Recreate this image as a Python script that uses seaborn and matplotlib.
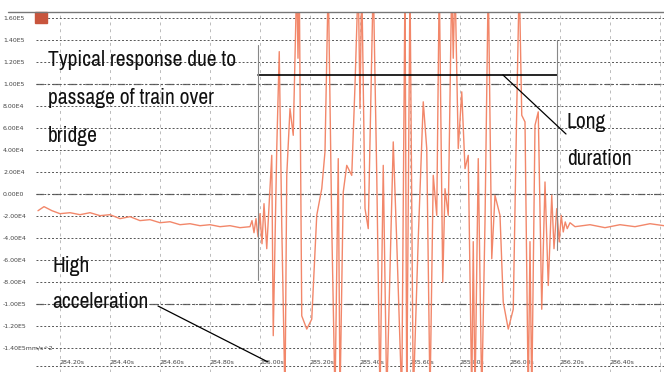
import numpy as np
import pandas as pd
import seaborn as sns
import matplotlib.pyplot as plt
from matplotlib import font_manager as fm
from matplotlib.lines import Line2D
from matplotlib.patches import Rectangle

# acceleration trace: time [s], acceleration [1E4 mm/s^2]
time_s = [
    284.112, 284.136, 284.168, 284.200, 284.240, 284.280, 284.320, 284.360,
    284.400, 284.440, 284.480, 284.520, 284.560, 284.600, 284.640, 284.680,
    284.720, 284.760, 284.800, 284.840, 284.880, 284.920, 284.960,
    284.968, 284.976, 284.984, 284.992, 285.000, 285.008, 285.016, 285.027,
    285.047, 285.053, 285.067, 285.077, 285.087, 285.100, 285.107, 285.120,
    285.133, 285.147, 285.152, 285.157, 285.167, 285.187, 285.207, 285.227,
    285.247, 285.260, 285.273, 285.287, 285.300, 285.313, 285.320, 285.333,
    285.347, 285.367, 285.380, 285.393, 285.400, 285.407, 285.420, 285.433,
    285.453, 285.467, 285.480, 285.493, 285.507, 285.533, 285.547, 285.567,
    285.580, 285.587, 285.600, 285.613, 285.633, 285.653, 285.667, 285.680,
    285.693, 285.707, 285.717, 285.731, 285.740, 285.753, 285.767, 285.773,
    285.780, 285.793, 285.807, 285.820, 285.833, 285.847, 285.853, 285.860,
    285.873, 285.887, 285.900, 285.913, 285.927, 285.940, 285.960, 285.973,
    285.993, 286.013, 286.027, 286.037, 286.047, 286.060, 286.073, 286.080,
    286.087, 286.100, 286.113, 286.127, 286.140, 286.153, 286.167, 286.176,
    286.187, 286.197, 286.205, 286.213, 286.221, 286.229, 286.240, 286.260,
    286.320, 286.380, 286.440, 286.500, 286.560, 286.616,
]
accel_e4 = [
    -1.55, -1.18, -1.55, -1.82, -1.73, -1.91, -1.73, -2.00,
    -1.91, -2.27, -2.09, -2.45, -2.36, -2.64, -2.55, -2.82,
    -2.73, -2.91, -2.82, -3.00, -2.91, -3.09, -3.00,
    -2.45, -3.55, -2.27, -3.91, -1.82, -4.55, -0.91, -5.00,
    3.48, -12.9, 4.09, 12.9, -2.88, -18.6, 1.66, 7.73,
    5.30, 19.5, 12.3, 19.5, -11.1, -12.3, -11.4, -1.97,
    0.45, 3.82, 19.5, -2.88, -18.6, 3.18, -18.6, 0.15,
    2.57, 1.66, 9.85, 19.5, 7.73, 19.5, -1.36, -3.18,
    19.5, 1.66, -18.6, 2.57, -18.6, 4.70, -4.39, -18.6,
    19.5, -18.6, 19.5, -18.6, -4.09, 8.34, 4.09, -18.6,
    1.66, -1.97, 19.5, -8.03, 0.45, -1.97, 19.5, 12.3,
    19.5, 4.09, 9.25, 2.27, 3.48, -18.6, -4.36, -18.6,
    3.18, -18.6, -2.57, 19.5, -5.91, -0.15, -1.97, -9.85,
    -12.3, -10.5, 7.73, 19.5, 7.12, 6.52, -18.6, -4.36,
    -18.6, 6.21, 7.43, -10.5, 1.06, -8.34, -0.15, -5.00,
    -1.36, -4.39, -1.97, -3.48, -2.57, -3.18, -2.64, -3.00,
    -2.82, -3.09, -2.82, -3.00, -2.73, -2.91,
]

x_ticks = [284.2, 284.4, 284.6, 284.8, 285.0, 285.2, 285.4, 285.6,
           285.8, 286.0, 286.2, 286.4, 286.6]
x_labels = ["284.20s", "284.40s", "284.60s", "284.80s", "285.00s", "285.20s",
            "285.40s", "285.60s", "285.80s", "286.00s", "286.20s", "286.40s",
            ""]
y_ticks = [16e4, 14e4, 12e4, 10e4, 8e4, 6e4, 4e4, 2e4, 0, -2e4, -4e4, -6e4,
           -8e4, -10e4, -12e4, -14e4]
y_labels = ["1.60E5", "1.40E5", "1.20E5", "1.00E5", "8.00E4", "6.00E4",
            "4.00E4", "2.00E4", "0.00E0", "-2.00E4", "-4.00E4", "-6.00E4",
            "-8.00E4", "-1.00E5", "-1.20E5", "-1.40E5mm/s^2"]

df = pd.DataFrame({"time": time_s, "accel": np.array(accel_e4) * 1e4})

sns.set_theme(style="white")
plt.rcParams["font.family"] = ["DejaVu Sans"]

# narrow font for the annotations if one is installed
narrow = None
for f in fm.fontManager.ttflist:
    if "Narrow" in f.name or "Condensed" in f.name:
        narrow = dict(family=f.name)
        break
    if f.name == "DejaVu Sans" and "condensed" in str(f.stretch) and f.weight in (400, "normal", "regular"):
        narrow = dict(family="DejaVu Sans", fontstretch="condensed")
if narrow is None:
    big = dict(fontsize=12.5, family="DejaVu Sans")
else:
    big = dict(fontsize=15.5, **narrow)
big.update(color="#111111", va="baseline", ha="left")

W, H = 664, 372
fig = plt.figure(figsize=(W / 100, H / 100), dpi=100)
ax = fig.add_axes([36 / W, 0, (W - 36) / W, (H - 12) / H])


def fx(px):
    return px / W


def fy(py):
    return 1 - py / H


ax.set_xlim(284.104, 286.616)
ax.set_ylim(-1.62e5, 1.65e5)
for s in ax.spines.values():
    s.set_visible(False)

ax.set_axisbelow(True)
ax.grid(axis="y", ls=(0, (2, 2)), color="#555555", lw=0.7)
ax.grid(axis="x", ls=(0, (3, 4)), color="#bbbbbb", lw=0.7)
for v in [1e5, 0, -1e5]:
    ax.axhline(v, color="#666666", lw=0.9, ls=(0, (6, 3, 1, 3)), zorder=0.5)
ax.axhline(-1.57e5, color="#555555", lw=0.7, ls=(0, (2, 2)), zorder=0.5)

ax.set_xticks(x_ticks, x_labels)
ax.set_yticks(y_ticks, y_labels)
ax.tick_params(axis="both", length=0, labelsize=4.5, labelcolor="#444444")
ax.tick_params(axis="x", pad=-9)
ax.tick_params(axis="y", pad=33 * 0.72)
for lbl in ax.get_yticklabels():
    lbl.set_ha("left")
for lbl in ax.get_xticklabels():
    lbl.set_ha("left")

sns.lineplot(data=df, x="time", y="accel", ax=ax, color="#f2876a", lw=1.0,
             estimator=None, sort=False, zorder=2)
ax.set_xlabel("")
ax.set_ylabel("")

# frame / annotation lines
fig.add_artist(Line2D([fx(8), fx(W)], [fy(12), fy(12)], color="#777777", lw=1))
fig.add_artist(Rectangle((fx(35), fy(23)), 12 / W, 11 / H, color="#c8553d"))
fig.add_artist(Line2D([fx(258), fx(557)], [fy(75), fy(75)], color="black", lw=1.2))
fig.add_artist(Line2D([fx(258), fx(258)], [fy(45), fy(280)], color="#888888", lw=0.8))
fig.add_artist(Line2D([fx(557), fx(557)], [fy(40), fy(250)], color="#888888", lw=0.8))
fig.add_artist(Line2D([fx(503), fx(566)], [fy(75), fy(134)], color="black", lw=0.9))
fig.add_artist(Line2D([fx(158), fx(268)], [fy(306), fy(362)], color="black", lw=0.9))

fig.text(fx(48), fy(66), "Typical response due to", **big)
fig.text(fx(48), fy(104), "passage of train over", **big)
fig.text(fx(48), fy(142), "bridge", **big)
fig.text(fx(52), fy(272), "High", **big)
fig.text(fx(52), fy(308), "acceleration", **big)
fig.text(fx(567), fy(128), "Long", **big)
fig.text(fx(567), fy(165), "duration", **big)

fig.savefig("out.png", dpi=100)
